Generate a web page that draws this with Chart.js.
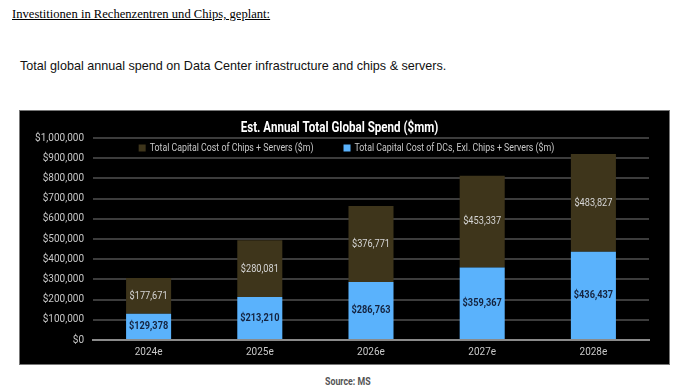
<!DOCTYPE html>
<html>
<head>
<meta charset="utf-8">
<script src="https://cdn.jsdelivr.net/npm/chart.js@4"></script>
<style>
  body { margin: 0; background: #fff; width: 680px; height: 391px; position: relative; overflow: hidden; }
  #kopf { position: absolute; left: 12px; top: 7px; font-family: "Liberation Serif", serif; font-size: 12.6px; color: #000; text-decoration: underline; }
  #satz { position: absolute; left: 20px; top: 59px; font-family: "Liberation Sans", Arial, sans-serif; font-size: 12.6px; color: #111; }
  #box { position: absolute; left: 19px; top: 110px; width: 651px; height: 255px; background: #000; border: 1px solid #777; box-sizing: border-box; }
  #quelle { position: absolute; left: 325px; top: 375px; font-family: Roboto, sans-serif; font-size: 11px; font-weight: bold; color: #555; transform: scaleX(0.8); transform-origin: left top; }
</style>
</head>
<body>
<div id="kopf">Investitionen in Rechenzentren und Chips, geplant:</div>
<div id="satz">Total global annual spend on Data Center infrastructure and chips &amp; servers.</div>
<div id="box"><canvas id="grafica" width="649" height="253"></canvas></div>
<div id="quelle">Source: MS</div>
<script>
// Datos del gráfico (en $m)
const jahre = ['2024e', '2025e', '2026e', '2027e', '2028e'];
const valoresDC = [129378, 213210, 286763, 359367, 436437];      // DCs sin chips ni servidores
const valoresChips = [177671, 280081, 376771, 453337, 483827];   // chips + servidores
const ticksY = [0, 100000, 200000, 300000, 400000, 500000, 600000, 700000, 800000, 900000, 1000000];
const titulo = 'Est. Annual Total Global Spend ($mm)';

const fuente = 'Roboto, "Liberation Sans", sans-serif';
const estrecho = 0.8; // la fuente original es condensada

function dinero(v) {
    return '$' + v.toLocaleString('en-US');
}

// Escribe texto comprimido horizontalmente (imita la fuente condensada)
function textoEstrecho(ctx, texto, x, y, align) {
    ctx.save();
    ctx.translate(x, y);
    ctx.scale(estrecho, 1);
    ctx.textAlign = align;
    ctx.fillText(texto, 0, 0);
    ctx.restore();
}

// Título, valores dentro de cada segmento y leyenda
const dibujos = {
    id: 'dibujos',
    afterDatasetsDraw(chart) {
        const ctx = chart.ctx;
        const area = chart.chartArea;
        ctx.save();
        ctx.textBaseline = 'middle';

        // valores
        chart.data.datasets.forEach((ds, i) => {
            const meta = chart.getDatasetMeta(i);
            meta.data.forEach((bar, j) => {
                ctx.fillStyle = ds.colorEtiqueta;
                ctx.font = ds.fontEtiqueta;
                textoEstrecho(ctx, dinero(ds.data[j]), bar.x, (bar.y + bar.base) / 2, 'center');
            });
        });

        // título
        ctx.fillStyle = '#ffffff';
        ctx.font = 'bold 14.5px ' + fuente;
        textoEstrecho(ctx, titulo, chart.width / 2 - 5, 17, 'center');

        // leyenda: marrón primero, luego azul
        const items = chart.data.datasets.slice().reverse();
        const caja = 7, hueco = 4, separacion = 30;
        ctx.font = '11px ' + fuente;
        const anchos = items.map(ds => caja + hueco + ctx.measureText(ds.label).width * estrecho);
        const total = anchos.reduce((a, b) => a + b, 0) + separacion * (items.length - 1);
        let x = chart.width / 2 + 2 - total / 2;
        const y = area.top + 10;
        items.forEach((ds, i) => {
            ctx.fillStyle = ds.backgroundColor;
            ctx.fillRect(x, y - caja / 2, caja, caja);
            ctx.fillStyle = '#c8c8c8';
            textoEstrecho(ctx, ds.label, x + caja + hueco, y, 'left');
            x += anchos[i] + separacion;
        });
        ctx.restore();
    }
};

new Chart(document.getElementById('grafica'), {
    type: 'bar',
    data: {
        labels: jahre,
        datasets: [
            {
                label: 'Total Capital Cost of DCs, Exl. Chips + Servers ($m)',
                data: valoresDC,
                backgroundColor: '#5ab2fc',
                colorEtiqueta: '#14233f',
                fontEtiqueta: 'bold 11.5px ' + fuente,
                barPercentage: 0.81,
                categoryPercentage: 0.5,
            },
            {
                label: 'Total Capital Cost of Chips + Servers ($m)',
                data: valoresChips,
                backgroundColor: '#3e351b',
                colorEtiqueta: '#d6d6d6',
                fontEtiqueta: '11.5px ' + fuente,
                barPercentage: 0.81,
                categoryPercentage: 0.5,
            },
        ],
    },
    options: {
        responsive: false,
        animation: false,
        layout: { padding: { left: 0, right: 20, top: 27, bottom: 0 } },
        plugins: {
            title: { display: false },
            legend: { display: false },
            tooltip: { enabled: false },
        },
        scales: {
            x: {
                stacked: true,
                grid: { display: false, drawTicks: false },
                border: { color: '#8a8a8a', width: 2 },
                ticks: { color: '#c8c8c8', font: { family: fuente, size: 10 }, padding: 6 },
            },
            y: {
                stacked: true,
                min: 0,
                max: 1000000,
                afterBuildTicks: (axis) => { axis.ticks = ticksY.map(v => ({ value: v })); },
                afterFit: (axis) => { axis.width = 73; },
                grid: { color: '#3c3c3c', lineWidth: 2, drawTicks: false },
                border: { display: false },
                ticks: {
                    color: '#c8c8c8',
                    font: { family: fuente, size: 10 },
                    padding: 9,
                    callback: (v) => dinero(v),
                },
            },
        },
    },
    plugins: [dibujos],
});
</script>
</body>
</html>
